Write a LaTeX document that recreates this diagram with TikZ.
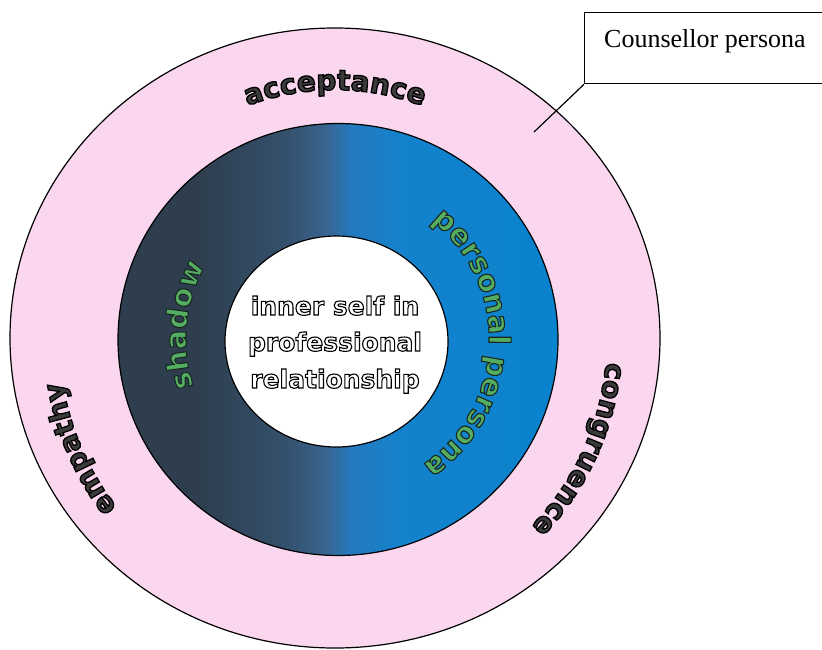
\documentclass[tikz,border=0pt]{standalone}
\usepackage{fontspec}
\setmainfont{Liberation Serif}
\newfontfamily\wfont{DejaVu Sans}
\usetikzlibrary{decorations.text}
\definecolor{pinkc}{RGB}{250,215,238}
\definecolor{sA}{RGB}{46,62,78}
\definecolor{sB}{RGB}{52,80,108}
\definecolor{sC}{RGB}{58,100,142}
\definecolor{sD}{RGB}{36,122,190}
\definecolor{sE}{RGB}{20,130,204}
\definecolor{sF}{RGB}{10,130,206}
\definecolor{greenc}{RGB}{84,172,96}
\definecolor{inkc}{RGB}{58,58,58}
\pgfdeclarehorizontalshading{ringshade}{100bp}{color(0bp)=(sA); color(25bp)=(sA); color(34bp)=(sA); color(44bp)=(sB); color(48.5bp)=(sC); color(51.5bp)=(sD); color(57bp)=(sE); color(75bp)=(sF); color(100bp)=(sF)}
% outlined text: PDF text render mode 2 (fill + stroke); #1 fill rgb, #2 stroke rgb, #3 stroke width
\newcommand\olon[3]{\special{pdf:literal direct 2 Tr #1 rg #2 RG #3 w}}
\newcommand\ringfont{\wfont\bfseries\fontsize{28pt}{28pt}\selectfont}
\newcommand\bluefont{\wfont\bfseries\fontsize{29pt}{29pt}\selectfont}
\newcommand\innerfont{\wfont\bfseries\fontsize{25pt}{25pt}\selectfont}
% #1 cx, #2 cy, #3 baseline radius, #4 mid angle, #5 font and outline, #6 fill colour, #7 text
\newcommand\ringtext[7]{%
  \path[decorate,decoration={text along path,text align=center,text color=#6,text={|#5|#7}}]
    (#1,#2) ++(#4+80:#3) arc[start angle=#4+80,end angle=#4-80,radius=#3];
}
\tikzset{ringline/.style={draw=black,line width=1.2pt},
  innertext/.style={font=\innerfont,text=white,anchor=base,inner sep=0pt}}
\begin{document}
\begin{tikzpicture}[x=1pt,y=1pt]
\useasboundingbox (0,0) rectangle (822,-649);
\fill[white] (0,0) rectangle (822,-649);
\clip (0,0) rectangle (822,-649);
% rings
\draw[ringline,fill=pinkc] (335,-338) ellipse [x radius=325, y radius=310];
\shadedraw[ringline,shading=ringshade] (338,-339.5) ellipse [x radius=220, y radius=216];
\draw[ringline,fill=white] (336.5,-341.5) ellipse [x radius=111.5, y radius=105.5];
% ring labels
\ringtext{335}{-338}{248}{90}{\ringfont\olon{0.23 0.23 0.23}{0 0 0}{1.3}}{inkc}{acceptance}
\ringtext{335}{-338}{272}{-24.5}{\ringfont\olon{0.23 0.23 0.23}{0 0 0}{1.3}}{inkc}{congruence}
\ringtext{335}{-338}{276}{203.5}{\ringfont\olon{0.23 0.23 0.23}{0 0 0}{1.3}}{inkc}{empathy}
\ringtext{338}{-339.5}{152}{174.5}{\bluefont\olon{0.33 0.68 0.38}{0.1 0.16 0.13}{1.1}}{greenc}{shadow}
\ringtext{338}{-339.5}{151}{-2}{\bluefont\olon{0.33 0.68 0.38}{0.1 0.16 0.13}{1.1}}{greenc}{personal persona}
% centre text
\node[innertext] (l1) at (335,-315) {\olon{1 1 1}{0 0 0}{1.1}inner self in};
\node[innertext] (l2) at (335,-351) {\olon{1 1 1}{0 0 0}{1.1}professional};
\node[innertext] (l3) at (335,-388) {\olon{1 1 1}{0 0 0}{1.1}relationship};
% counsellor persona box
\node[draw=black,line width=1.3pt,anchor=north west,minimum width=250pt,minimum height=71pt,inner sep=0pt] (cpbox) at (584,-12) {};
\node[anchor=base west,inner sep=0pt,font=\fontsize{26pt}{26pt}\selectfont,text=black] (cptext) at (604,-47) {Counsellor persona};
\coordinate (cpend) at (534,-132);
\draw[draw=black,line width=1.2pt] (cpbox.south west) -- (cpend);
\end{tikzpicture}
\end{document}
